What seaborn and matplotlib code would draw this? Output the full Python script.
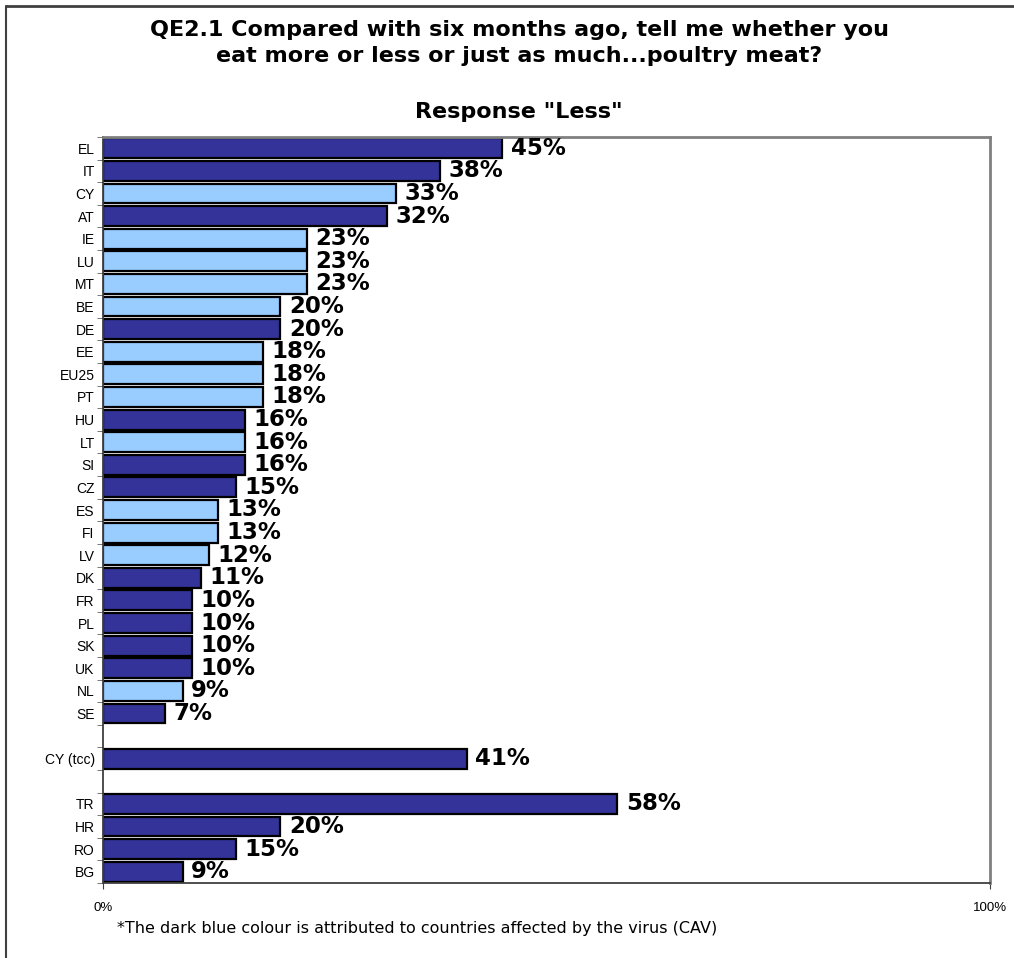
import pandas as pd
import matplotlib
matplotlib.use('Agg')
import matplotlib.pyplot as plt
import seaborn as sns
from matplotlib.lines import Line2D

# Data
countries = ['EL', 'IT', 'CY', 'AT', 'IE', 'LU', 'MT', 'BE', 'DE', 'EE', 'EU25', 'PT', 'HU',
             'LT', 'SI', 'CZ', 'ES', 'FI', 'LV', 'DK', 'FR', 'PL', 'SK', 'UK', 'NL', 'SE',
             'CY (tcc)', 'TR', 'HR', 'RO', 'BG']
values = [45, 38, 33, 32, 23, 23, 23, 20, 20, 18, 18, 18, 16,
          16, 16, 15, 13, 13, 12, 11, 10, 10, 10, 10, 9, 7,
          41, 58, 20, 15, 9]
affected = ['yes', 'yes', 'no', 'yes', 'no', 'no', 'no', 'no', 'yes', 'no', 'no', 'no', 'yes',
            'no', 'yes', 'yes', 'no', 'no', 'no', 'yes', 'yes', 'yes', 'yes', 'yes', 'no', 'yes',
            'yes', 'yes', 'yes', 'yes', 'yes']

# blank slots separate the groups
order = countries[:26] + [' '] + ['CY (tcc)'] + ['  '] + countries[27:]

df = pd.DataFrame({'country': countries, 'value': values, 'cav': affected})

sns.set_style('white')
plt.rcParams['font.family'] = ['DejaVu Sans']
plt.rcParams['text.color'] = 'black'
plt.rcParams['xtick.color'] = 'black'
plt.rcParams['ytick.color'] = 'black'

fig = plt.figure(figsize=(10.14, 9.58), dpi=100)
ax = fig.add_axes([103 / 1014, 1 - 883 / 958, 887 / 1014, 746 / 958])

sns.barplot(data=df, y='country', x='value', hue='cav', order=order,
            palette={'yes': '#333399', 'no': '#99CCFF'}, dodge=False, legend=False,
            saturation=1, width=0.88, edgecolor='black', linewidth=1.6, orient='h', ax=ax)

pos = {c: i for i, c in enumerate(order)}
for c, v in zip(countries, values):
    ax.text(v + 0.95, pos[c], f'{v}%', va='center', ha='left',
            fontsize=16.5, fontweight='bold', color='black')

ax.set_xlim(0, 100)
ax.set_ylim(len(order) - 0.5, -0.5)
ax.set_xticks([0, 100])
ax.set_xticklabels(['0%', '100%'], fontsize=9.5, family='Liberation Sans')
ax.tick_params(axis='x', length=4, pad=10, color='#404040', bottom=True)
ax.set_yticks(range(len(order)))
ax.set_yticklabels(order, fontsize=10, family='Liberation Sans')
ax.tick_params(axis='y', length=0, pad=6)
ax.set_yticks([i - 0.5 for i in range(len(order) + 1)], minor=True)
ax.tick_params(axis='y', which='minor', length=4, color='#606060', left=True)
ax.set_xlabel('')
ax.set_ylabel('')
for side, s in ax.spines.items():
    s.set_color('#808080' if side in ('top', 'right') else '#404040')
    s.set_linewidth(2 if side in ('top', 'right') else 1.3)

fig.text(0.512, 1 - 30 / 958, 'QE2.1 Compared with six months ago, tell me whether you',
         ha='center', va='center', fontsize=16, fontweight='bold')
fig.text(0.512, 1 - 56 / 958, 'eat more or less or just as much...poultry meat?',
         ha='center', va='center', fontsize=16, fontweight='bold')
fig.text(0.512, 1 - 112 / 958, 'Response "Less"', ha='center', va='center',
         fontsize=16, fontweight='bold')
fig.text(117 / 1014, 1 - 928 / 958,
         '*The dark blue colour is attributed to countries affected by the virus (CAV)',
         ha='left', va='center', fontsize=11.5, family='DejaVu Sans')

# outer frame (top and left)
fig.add_artist(Line2D([6 / 1014, 1], [1 - 6 / 958, 1 - 6 / 958], color='#404040', lw=2))
fig.add_artist(Line2D([6 / 1014, 6 / 1014], [0, 1 - 6 / 958], color='#404040', lw=1.5))

fig.savefig('out.png', dpi=100)
